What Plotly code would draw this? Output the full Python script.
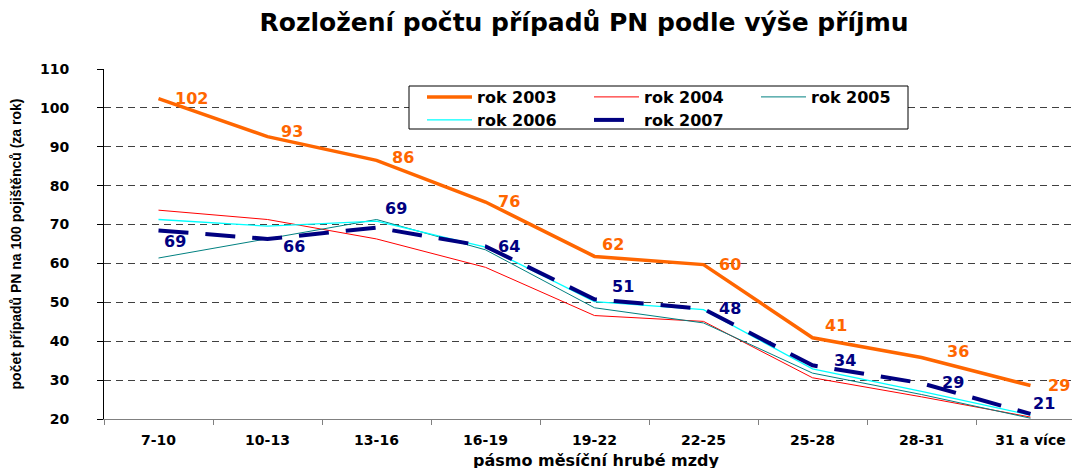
import plotly.graph_objects as go

categories = ["7-10", "10-13", "13-16", "16-19", "19-22", "22-25", "25-28", "28-31", "31 a více"]
rok2003 = [102.4, 92.6, 86.5, 75.8, 61.8, 59.7, 40.9, 35.8, 28.6]
rok2004 = [73.7, 71.3, 66.3, 59.0, 46.6, 45.1, 30.6, 25.7, 20.5]
rok2005 = [61.4, 66.3, 71.3, 63.5, 48.6, 44.7, 31.8, 26.3, 20.2]
rok2006 = [71.3, 69.6, 70.9, 64.2, 50.2, 48.1, 32.9, 27.1, 21.0]
rok2007 = [68.5, 66.3, 69.2, 64.4, 50.8, 48.3, 33.8, 29.2, 21.3]
labels2003 = ["102", "93", "86", "76", "62", "60", "41", "36", "29"]
labels2007 = ["69", "66", "69", "64", "51", "48", "34", "29", "21"]
yticks = [20, 30, 40, 50, 60, 70, 80, 90, 100, 110]

# label offsets in pixels (dx right, dy down)
off2003 = [(33, 0), (24, -5), (26, -3), (23, -1), (18, -12), (26, 0), (23, -12), (36, -6), (28, 0)]
off2007 = [(16, 11), (26, 8), (19, -19), (23, 0), (28, -13), (26, 0), (32, -5), (31, -1), (13, -10)]

W, H = 1080, 468
PAGE = 8  # page body margin shifts the figure on screen
L, R, T, B = 104 - PAGE, 0, 69 - PAGE, H - 419 + PAGE
FONT = "DejaVu Sans"
ORANGE = "#FF6600"
NAVY = "#000080"

fig = go.Figure()
fig.add_trace(go.Scatter(x=categories, y=rok2003, mode="lines", name="rok 2003",
                         line=dict(color=ORANGE, width=3.5), legend="legend"))
fig.add_trace(go.Scatter(x=categories, y=rok2004, mode="lines", name="rok 2004",
                         line=dict(color="#FF0000", width=1), legend="legend"))
fig.add_trace(go.Scatter(x=categories, y=rok2005, mode="lines", name="rok 2005",
                         line=dict(color="#008080", width=1), legend="legend"))
fig.add_trace(go.Scatter(x=categories, y=rok2006, mode="lines", name="rok 2006",
                         line=dict(color="#00FFFF", width=1.3), legend="legend2"))
fig.add_trace(go.Scatter(x=categories, y=rok2007, mode="lines", name="rok 2007",
                         line=dict(color=NAVY, width=4, dash="30px,17px"), legend="legend2"))

annotations = []
for c, v, t, (dx, dy) in zip(categories, rok2003, labels2003, off2003):
    annotations.append(dict(x=c, y=v, xref="x", yref="y", text=t, showarrow=False,
                            xshift=dx, yshift=-dy, xanchor="center", yanchor="middle",
                            font=dict(family=FONT, size=16, color=ORANGE, weight="bold")))
for c, v, t, (dx, dy) in zip(categories, rok2007, labels2007, off2007):
    annotations.append(dict(x=c, y=v, xref="x", yref="y", text=t, showarrow=False,
                            xshift=dx, yshift=-dy, xanchor="center", yanchor="middle",
                            font=dict(family=FONT, size=16, color=NAVY, weight="bold")))

pw = W - L - R
ph = H - T - B
def px_x(p):  # screen px -> paper
    return (p - PAGE - L) / pw
def px_y(p):
    return (H - B - (p - PAGE)) / ph

legend_font = dict(family=FONT, size=16, color="black", weight="bold")
fig.update_layout(
    width=W, height=H,
    margin=dict(l=L, r=R, t=T, b=B, pad=0, autoexpand=False),
    paper_bgcolor="white", plot_bgcolor="white",
    title=dict(text="Rozložení počtu případů PN podle výše příjmu",
               x=576 / W, xanchor="center", y=1 - 14 / H, yanchor="middle",
               font=dict(family=FONT, size=25, color="black", weight="bold")),
    xaxis=dict(type="category", range=[-0.5, -0.5 + pw / 109.0],
               showline=True, linecolor="#808080", linewidth=1,
               ticks="outside", tickson="boundaries", ticklen=5, tickcolor="#808080",
               showgrid=False, tickfont=dict(family=FONT, size=14, color="black", weight="bold"),
               ticklabelstandoff=8,
               title=dict(text="pásmo měsíční hrubé mzdy", standoff=8,
                          font=dict(family=FONT, size=16, color="black", weight="bold"))),
    yaxis=dict(range=[20, 110], tickvals=yticks, showline=True, linecolor="black", linewidth=1,
               ticks="outside", ticklen=6, tickcolor="black",
               showgrid=True, gridcolor="#404040", griddash="7px,5px", gridwidth=1,
               zeroline=False, ticklabelstandoff=25,
               tickfont=dict(family=FONT, size=14, color="black", weight="bold"),
               title=dict(text="počet případů PN na 100 pojištěnců (za rok)", standoff=17,
                          font=dict(family="Liberation Sans", size=14, color="black", weight="bold"))),
    legend=dict(orientation="h", xref="paper", yref="paper",
                x=px_x(422), xanchor="left", y=px_y(97), yanchor="middle",
                entrywidth=107, entrywidthmode="pixels", itemwidth=45,
                bgcolor="rgba(0,0,0,0)", borderwidth=0, font=legend_font),
    legend2=dict(orientation="h", xref="paper", yref="paper",
                 x=px_x(422), xanchor="left", y=px_y(120), yanchor="middle",
                 entrywidth=107, entrywidthmode="pixels", itemwidth=45,
                 bgcolor="rgba(0,0,0,0)", borderwidth=0, font=legend_font),
    shapes=[dict(type="rect", xref="paper", yref="paper",
                 x0=px_x(409), x1=px_x(908), y0=px_y(129), y1=px_y(86),
                 line=dict(color="black", width=1), fillcolor="white", layer="above")],
    annotations=annotations,
    showlegend=True,
)

fig.write_html("out.html")
